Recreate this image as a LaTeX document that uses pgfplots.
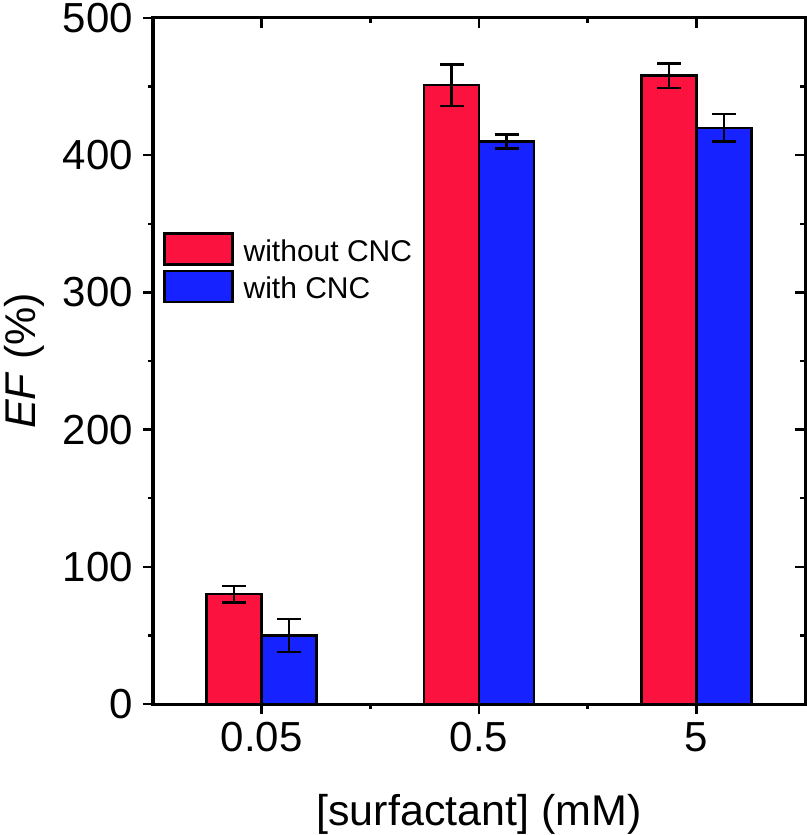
\documentclass[border=0pt]{standalone}
\usepackage{pgfplots}
\pgfplotsset{compat=1.18}
\usepackage{fontspec}
\setmainfont{Liberation Sans}

\definecolor{barred}{RGB}{252,18,62}
\definecolor{barblue}{RGB}{22,34,255}

\pgfplotsset{
  frameopts/.style={
    scale only axis,
    width=652pt, height=686pt,
    xmin=-0.5, xmax=2.5, ymin=0, ymax=500,
    xtick={0,1,2}, minor xtick={0.5,1.5},
    ytick={0,100,200,300,400,500}, minor ytick={50,150,250,350,450},
    axis line style={line width=3pt},
    major tick style={line width=2.5pt, black},
    minor tick style={line width=2.5pt, black},
    major tick length=10pt, minor tick length=5pt,
  },
}

\begin{document}
\begin{tikzpicture}
\begin{axis}[
  frameopts,
  tick align=outside,
  xtick pos=bottom, ytick pos=left,
  xticklabels={0.05,0.5,5},
  /pgf/number format/assume math mode=true,
  ticklabel style={font=\fontsize{42}{50}\selectfont},
  yticklabel style={inner sep=0pt, xshift=-10pt},
  xticklabel style={inner sep=0pt, yshift=-8pt},
  xlabel={[surfactant] (mM)},
  ylabel={\textit{EF} (\%)},
  label style={font=\fontsize{43}{50}\selectfont},
  xlabel style={at={(axis description cs:0.5,-0.1765)}, anchor=base, inner sep=0pt},
  ylabel style={at={(axis description cs:-0.166,0.5)}, anchor=south, inner sep=0pt},
  ybar, bar width=55pt,
  legend style={
    at={(axis description cs:0.0153,0.688)}, anchor=north west,
    draw=none, fill=none, inner sep=0pt, row sep=4pt,
    font=\fontsize{30}{34}\selectfont,
    nodes={inner sep=0pt},
    /tikz/every odd column/.append style={column sep=10pt},
  },
  legend cell align=left,
  legend image code/.code={\draw[#1, line width=2.5pt] (0pt,-13.5pt) rectangle (68pt,17.5pt);},
  error bars/error bar style={line width=2.5pt, black},
  error bars/error mark options={rotate=90, mark size=12pt, line width=2.5pt, black},
]
\addplot[fill=barred, draw=black, line width=2.5pt, bar shift=-27.5pt,
  error bars/.cd, y dir=both, y explicit]
  coordinates {(0,80) +- (0,6) (1,451) +- (0,15) (2,458) +- (0,9)};
\addplot[fill=barblue, draw=black, line width=2.5pt, bar shift=27.5pt,
  error bars/.cd, y dir=both, y explicit]
  coordinates {(0,50) +- (0,12) (1,410) +- (0,5) (2,420) +- (0,10)};
\legend{without CNC, with CNC}
\coordinate (ll) at (rel axis cs:0,0);
\coordinate (ur) at (rel axis cs:1,1);
\end{axis}
% inward ticks on the top and right edges
\begin{axis}[
  frameopts,
  tick align=inside,
  xtick pos=top, ytick pos=right,
  xticklabels={}, yticklabels={},
]
\end{axis}
\pgfresetboundingbox
\path ([shift={(-153pt,-131pt)}]ll) rectangle ([shift={(1pt,18pt)}]ur);
\end{tikzpicture}
\end{document}
